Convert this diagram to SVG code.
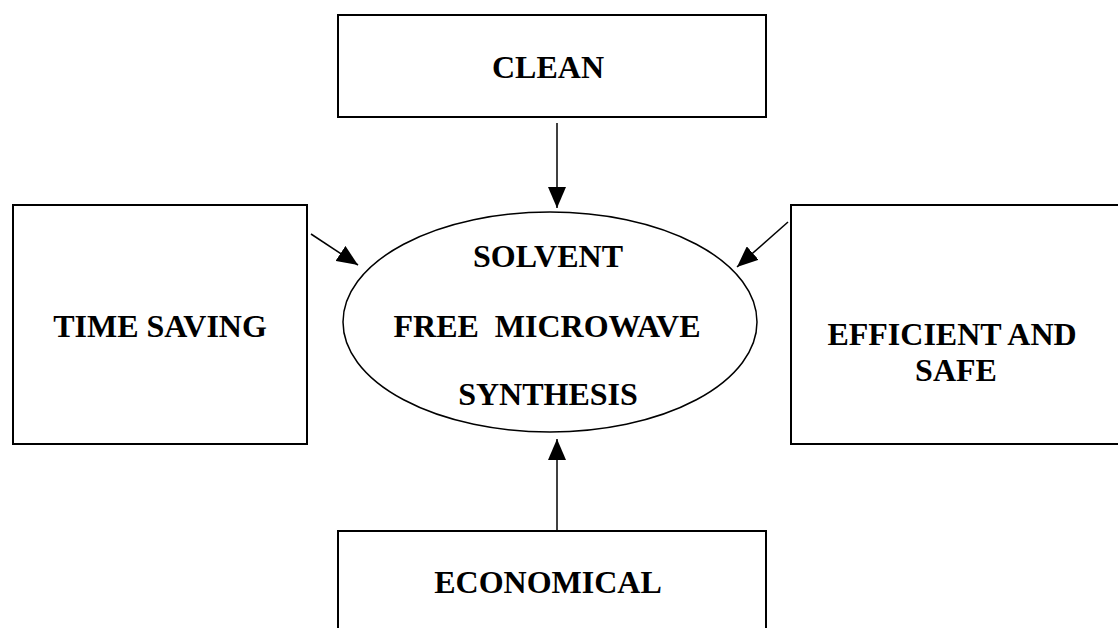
<svg xmlns="http://www.w3.org/2000/svg" width="1118" height="628" viewBox="0 0 1118 628">
<style>
.box{fill:#fff;stroke:#000;stroke-width:2}
.ell{fill:none;stroke:#000;stroke-width:1.5}
.t{font-family:"Liberation Serif","Times New Roman",serif;font-weight:bold;font-size:32px;fill:#000;text-anchor:middle}
.c{stroke:#000;stroke-width:1.5;fill:none}
</style>
<defs>
<marker id="ah" viewBox="0 0 21 18" refX="21" refY="9" markerWidth="21" markerHeight="18" markerUnits="userSpaceOnUse" orient="auto">
<path d="M0,0 L21,9 L0,18 Z" fill="#000"/>
</marker>
</defs>
<rect width="1118" height="628" fill="#fff"/>
<g id="clean">
<rect class="box" x="338" y="15" width="428" height="102"/>
<text class="t" x="548" y="78">CLEAN</text>
</g>
<g id="time-saving">
<rect class="box" x="13" y="205" width="294" height="239"/>
<text class="t" x="160" y="337">TIME SAVING</text>
</g>
<g id="efficient-safe">
<rect class="box" x="791" y="205" width="334" height="239"/>
<text class="t" x="952" y="345">EFFICIENT AND</text>
<text class="t" x="956" y="381">SAFE</text>
</g>
<g id="economical">
<rect class="box" x="338" y="531" width="428" height="110"/>
<text class="t" x="548" y="593">ECONOMICAL</text>
</g>
<g id="solvent-free">
<ellipse class="ell" cx="550" cy="322" rx="207" ry="110"/>
<text class="t" x="548" y="267">SOLVENT</text>
<text class="t" x="547" y="337" xml:space="preserve">FREE  MICROWAVE</text>
<text class="t" x="548" y="405">SYNTHESIS</text>
</g>
<g id="connectors">
<line class="c" x1="557" y1="123" x2="557" y2="208" marker-end="url(#ah)"/>
<line class="c" x1="557" y1="531" x2="557" y2="439" marker-end="url(#ah)"/>
<line class="c" x1="311" y1="234" x2="358" y2="265" marker-end="url(#ah)"/>
<line class="c" x1="788" y1="222" x2="737" y2="267" marker-end="url(#ah)"/>
</g>
</svg>
